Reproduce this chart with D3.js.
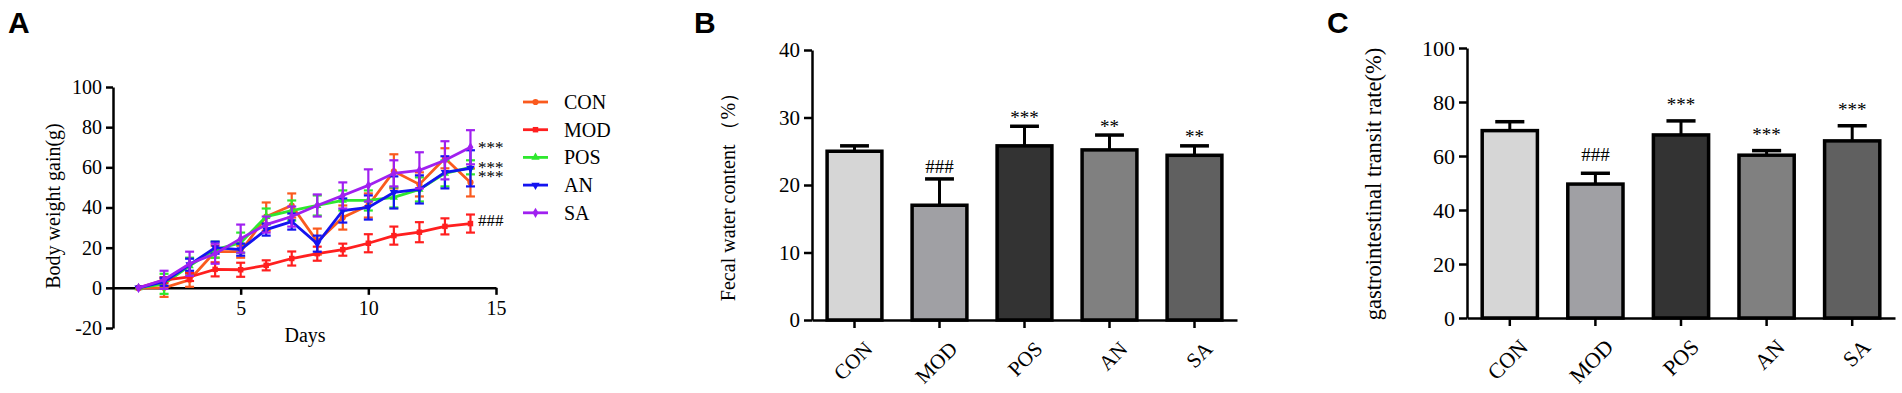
<!DOCTYPE html>
<html>
<head>
<meta charset="utf-8">
<script src="https://d3js.org/d3.v7.min.js"></script>
<style>
  body { margin: 0; background: #fff; }
  text { font-family: "Liberation Serif", "Times New Roman", serif; fill: #000; }
  .panel-letter { font-family: "Liberation Sans", Arial, sans-serif; font-weight: bold; font-size: 30px; }
  .axis path, .axis line { stroke: #000; stroke-width: 2.5; }
  .axis text { font-family: "Liberation Serif", "Times New Roman", serif; }
</style>
</head>
<body>
<script>
// ---- data ----
const days = [1, 2, 3, 4, 5, 6, 7, 8, 9, 10, 11, 12, 13, 14];
const groups = ["CON", "MOD", "POS", "AN", "SA"];

const weightCON   = [0, 0, 4, 18, 18, 35.5, 41, 23, 35, 41, 58, 51.5, 64.5, 52.5];
const weightCONsd = [0, 4.5, 3.5, 3, 3, 7, 6, 6.5, 6, 6, 8.5, 6, 5, 7];
const weightMOD   = [0, 3.8, 5.4, 9.2, 9, 11.2, 14.6, 17, 19, 22.2, 26, 27.7, 30.6, 32];
const weightMODsd = [0, 1.5, 2, 3.5, 3.5, 2.5, 3.5, 3.5, 3, 4.5, 4.5, 5, 4, 4.5];
const weightPOS   = [0, 2, 11, 19, 22.5, 35.5, 38.5, 41, 43.5, 43.5, 45, 49, 57, 60];
const weightPOSsd = [0, 5, 4, 4, 5, 4, 5, 5, 5, 5, 5, 6, 6.5, 3.5];
const weightAN    = [0, 3, 11.5, 20, 19, 29, 33, 22, 38.5, 40, 47.5, 49, 57.5, 59.5];
const weightANsd  = [0, 2, 3, 3, 3, 3, 4, 4, 6, 6, 8, 7, 8, 9];
const weightSA    = [0, 4, 12, 17, 24.5, 31.5, 35.5, 41, 46, 51, 57, 58.5, 63.5, 70];
const weightSAsd  = [0, 4.5, 6, 5, 7, 4, 5, 5.5, 6.5, 8, 6.5, 9, 9.5, 8.5];
const weightMarks = ["", "###", "***", "***", "***"];

const fecalWater   = [25.0, 17.0, 25.8, 25.2, 24.4];
const fecalWaterSD = [0.8, 3.9, 2.9, 2.2, 1.4];
const fecalMarks   = ["", "###", "***", "**", "**"];

const transitRate   = [69.4, 49.6, 67.8, 60.3, 65.6];
const transitRateSD = [3.3, 4.0, 5.2, 1.7, 5.6];
const transitMarks  = ["", "###", "***", "***", "***"];

const xTicksA = [5, 10, 15];
const yTicksA = [-20, 0, 20, 40, 60, 80, 100];
const yTicksB = [0, 10, 20, 30, 40];
const yTicksC = [0, 20, 40, 60, 80, 100];

// ---- styles ----
const lineColors = ["#fa5a1e", "#ff1f1f", "#2ee82e", "#1414f0", "#a020f0"];
const lineSymbols = [d3.symbolCircle, d3.symbolSquare, d3.symbolTriangle, d3.symbolTriangle, d3.symbolDiamond];
const barFills = ["#d6d6d6", "#a0a0a4", "#333333", "#808080", "#606060"];

const svg = d3.select("body").append("svg")
  .attr("width", 1902).attr("height", 393);

const plain = d => String(d);   // keep "-20" with a hyphen like the original
function markDy(m) { return m.startsWith("*") ? "0.5em" : "0.33em"; }

// ---- panel A: body weight gain ----
function drawLinePanel() {
  const x = d3.scaleLinear().domain([0, 15]).range([113, 496]);
  const y = d3.scaleLinear().domain([-20, 100]).range([328, 87]);

  svg.append("text").attr("class", "panel-letter").attr("x", 8).attr("y", 33).text("A");

  svg.append("g").attr("class", "axis")
    .attr("transform", `translate(${x(0)},0)`)
    .call(d3.axisLeft(y).tickValues(yTicksA).tickFormat(plain).tickSize(7).tickSizeOuter(0).tickPadding(4))
    .selectAll("text").style("font-size", "20px");
  svg.append("g").attr("class", "axis")
    .attr("transform", `translate(0,${y(0)})`)
    .call(d3.axisBottom(x).tickValues(xTicksA).tickFormat(plain).tickSize(7).tickSizeOuter(0).tickPadding(6))
    .selectAll("text").style("font-size", "20px");

  svg.append("text").attr("x", 305).attr("y", 342).attr("text-anchor", "middle")
    .style("font-size", "20px").text("Days");
  svg.append("text").attr("transform", "translate(53,206) rotate(-90)")
    .attr("text-anchor", "middle").attr("dy", "0.35em")
    .style("font-size", "20px").text("Body weight gain(g)");

  const series = [
    {means: weightCON, sd: weightCONsd},
    {means: weightMOD, sd: weightMODsd},
    {means: weightPOS, sd: weightPOSsd},
    {means: weightAN, sd: weightANsd},
    {means: weightSA, sd: weightSAsd}
  ];
  const order = [0, 2, 1, 3, 4];
  const line = d3.line().x((d, i) => x(days[i])).y(d => y(d));

  order.forEach(gi => {
    const s = series[gi], col = lineColors[gi];
    const g = svg.append("g");
    // error bars
    s.means.forEach((m, i) => {
      if (!s.sd[i]) return;
      const cx = x(days[i]);
      g.append("line").attr("x1", cx).attr("x2", cx)
        .attr("y1", y(m - s.sd[i])).attr("y2", y(m + s.sd[i]))
        .attr("stroke", col).attr("stroke-width", 2.2);
      [m - s.sd[i], m + s.sd[i]].forEach(v => {
        g.append("line").attr("x1", cx - 4.5).attr("x2", cx + 4.5)
          .attr("y1", y(v)).attr("y2", y(v))
          .attr("stroke", col).attr("stroke-width", 2.2);
      });
    });
    g.append("path").datum(s.means).attr("d", line)
      .attr("fill", "none").attr("stroke", col).attr("stroke-width", 2.8);
    g.selectAll("path.sym").data(s.means).join("path").attr("class", "sym")
      .attr("transform", (d, i) => `translate(${x(days[i])},${y(d)})` + (gi === 3 ? " rotate(180)" : ""))
      .attr("d", d3.symbol().type(lineSymbols[gi]).size(30))
      .attr("fill", col);
  });

  // end-of-line significance marks, nudged apart
  const labels = groups.map((g, i) => ({mark: weightMarks[i], cy: y(series[i].means[13]) - 3}))
    .filter(d => d.mark);
  labels.sort((a, b) => a.cy - b.cy);
  for (let i = 1; i < labels.length; i++) {
    if (labels[i].cy - labels[i - 1].cy < 9) labels[i].cy = labels[i - 1].cy + 9;
  }
  svg.selectAll("text.markA").data(labels).join("text").attr("class", "markA")
    .attr("x", 478).attr("y", d => d.cy).attr("dy", d => markDy(d.mark))
    .style("font-size", "17px").text(d => d.mark);

  // legend
  const leg = svg.append("g").attr("transform", "translate(523,102)");
  groups.forEach((name, i) => {
    const r = leg.append("g").attr("transform", `translate(0,${i * 27.7})`);
    r.append("line").attr("x1", 0).attr("x2", 25).attr("stroke", lineColors[i]).attr("stroke-width", 2.8);
    r.append("path").attr("transform", `translate(12.5,0)` + (i === 3 ? " rotate(180)" : ""))
      .attr("d", d3.symbol().type(lineSymbols[i]).size(30)).attr("fill", lineColors[i]);
    r.append("text").attr("x", 41).attr("dy", "0.35em").style("font-size", "20px").text(name);
  });
}

// ---- panels B and C: bar charts ----
function drawBarPanel(opt) {
  const x = d3.scaleBand().domain(groups).range([opt.x0, opt.x1]).paddingInner(0.32).paddingOuter(0.16);
  const y = d3.scaleLinear().domain([0, opt.max]).range([opt.yBottom, opt.yTop]);

  svg.append("text").attr("class", "panel-letter").attr("x", opt.letterX).attr("y", 33).text(opt.letter);

  svg.append("g").attr("class", "axis")
    .attr("transform", `translate(${opt.x0},0)`)
    .call(d3.axisLeft(y).tickValues(opt.ticks).tickFormat(plain).tickSize(8).tickSizeOuter(0).tickPadding(4))
    .selectAll("text").style("font-size", opt.font + "px");

  const xa = svg.append("g").attr("class", "axis")
    .attr("transform", `translate(0,${opt.yBottom})`)
    .call(d3.axisBottom(x).tickSize(8).tickSizeOuter(0));
  xa.selectAll("text")
    .attr("text-anchor", "end")
    .attr("transform", "translate(14,25) rotate(-45)")
    .attr("dy", "0.35em").attr("y", 0)
    .style("font-size", opt.font + "px");

  svg.append("text")
    .attr("transform", `translate(${opt.labelX},${opt.labelY}) rotate(-90)`)
    .attr("text-anchor", "middle").attr("dy", "0.35em")
    .style("font-size", opt.labelFont + "px").text(opt.label);

  const cx = d => x(d) + x.bandwidth() / 2;
  // error bars (upper only)
  svg.selectAll(null).data(groups).join("line")
    .attr("x1", cx).attr("x2", cx)
    .attr("y1", (d, i) => y(opt.values[i])).attr("y2", (d, i) => y(opt.values[i] + opt.sd[i]))
    .attr("stroke", "#000").attr("stroke-width", 3);
  svg.selectAll(null).data(groups).join("line")
    .attr("x1", d => cx(d) - x.bandwidth() / 4).attr("x2", d => cx(d) + x.bandwidth() / 4)
    .attr("y1", (d, i) => y(opt.values[i] + opt.sd[i])).attr("y2", (d, i) => y(opt.values[i] + opt.sd[i]))
    .attr("stroke", "#000").attr("stroke-width", 3.5);
  // bars
  svg.selectAll(null).data(groups).join("rect")
    .attr("x", d => x(d) + 1.5).attr("width", x.bandwidth() - 3)
    .attr("y", (d, i) => y(opt.values[i]))
    .attr("height", (d, i) => opt.yBottom - y(opt.values[i]))
    .attr("fill", (d, i) => barFills[i]).attr("stroke", "#000").attr("stroke-width", 3.5);
  // significance marks
  svg.selectAll(null).data(groups).join("text")
    .attr("x", cx).attr("y", (d, i) => y(opt.values[i] + opt.sd[i]) - opt.markGap)
    .attr("dy", (d, i) => markDy(opt.marks[i] || "*"))
    .attr("text-anchor", "middle").style("font-size", "19px")
    .text((d, i) => opt.marks[i]);
}

drawLinePanel();
drawBarPanel({
  letter: "B", letterX: 694, x0: 812, x1: 1237, yTop: 50, yBottom: 320, max: 40,
  ticks: yTicksB, values: fecalWater, sd: fecalWaterSD, marks: fecalMarks, font: 21,
  label: "Fecal water content （%）", labelX: 728, labelY: 192, labelFont: 20, markGap: 12
});
drawBarPanel({
  letter: "C", letterX: 1327, x0: 1467, x1: 1895, yTop: 48, yBottom: 318, max: 100,
  ticks: yTicksC, values: transitRate, sd: transitRateSD, marks: transitMarks, font: 22,
  label: "gastrointestinal transit rate(%)", labelX: 1373, labelY: 184, labelFont: 22.5, markGap: 19
});
</script>
</body>
</html>
